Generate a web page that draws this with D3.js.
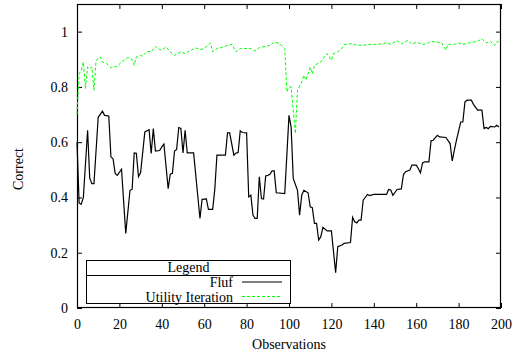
<!DOCTYPE html>
<html><head><meta charset="utf-8">
<script src="https://cdn.jsdelivr.net/npm/d3@7"></script>
<style>body{margin:0;background:#fff}svg{display:block}text{font-family:"Liberation Serif","Times New Roman",serif;font-size:14px;fill:#000}</style>
</head><body><svg id="c" width="515" height="356"></svg>
<script>
const xTicks=[0,20,40,60,80,100,120,140,160,180,200];
const yTicks=[0,0.2,0.4,0.6,0.8,1];
const seriesNames=["Fluf","Utility Iteration"];
const flufX=[0,1,2,3,5,6,7,8,10,12,13,15,16,17,18,19,21,23,25,26,27,28,29,30,32,34,35,36,37,39,40,41,43,44,45,46,47,48,49,50,51,52,55,58,59,61,62,64,65,66,70,71,72,74,75,76,77,78,80,81,82,83,84,85,86,87,88,89,90,91,92,93,94,98,100,101,102,104,105,106,107,109,110,111,112,113,114,115,116,118,120,122,123,125,126,129,130,131,132,133,134,135,137,138,140,146,147,148,149,151,153,154,155,157,158,160,161,162,163,164,166,167,168,170,171,174,176,177,178,179,181,182,183,184,186,187,189,191,192,193,194,195,197,198,199];
const flufY=[0.60,0.38,0.375,0.40,0.643,0.47,0.45,0.45,0.69,0.712,0.697,0.695,0.547,0.54,0.487,0.48,0.502,0.27,0.426,0.43,0.561,0.56,0.475,0.49,0.637,0.645,0.559,0.649,0.568,0.57,0.583,0.593,0.432,0.484,0.487,0.568,0.574,0.653,0.65,0.561,0.643,0.561,0.561,0.324,0.393,0.395,0.357,0.357,0.43,0.553,0.553,0.634,0.634,0.553,0.561,0.562,0.641,0.635,0.634,0.402,0.408,0.336,0.324,0.324,0.475,0.396,0.394,0.478,0.48,0.484,0.496,0.496,0.417,0.414,0.697,0.655,0.469,0.426,0.336,0.408,0.426,0.417,0.366,0.363,0.306,0.306,0.246,0.258,0.292,0.279,0.279,0.128,0.222,0.228,0.234,0.237,0.328,0.312,0.308,0.318,0.318,0.39,0.411,0.407,0.411,0.411,0.429,0.427,0.408,0.429,0.431,0.483,0.493,0.499,0.517,0.517,0.505,0.489,0.525,0.529,0.529,0.605,0.607,0.625,0.619,0.617,0.595,0.532,0.571,0.607,0.673,0.673,0.746,0.752,0.752,0.737,0.716,0.716,0.649,0.653,0.649,0.657,0.655,0.661,0.655];
const utilX=[0,1,2,3,4,5,6,7,8,9,11,12,14,16,19,21,24,26,27,28,30,31,33,35,37,38,40,42,44,46,49,51,53,56,58,60,63,64,66,68,71,73,75,77,79,82,84,86,89,91,93,95,97,98,99,100,101,103,104,106,107,108,110,111,112,115,117,118,120,121,123,125,126,129,131,134,137,141,144,146,148,151,153,156,158,160,163,165,167,170,172,174,175,178,180,182,185,187,189,191,193,195,197,198,199];
const utilY=[0.70,0.848,0.86,0.89,0.794,0.872,0.866,0.872,0.788,0.896,0.908,0.89,0.884,0.869,0.875,0.89,0.906,0.899,0.878,0.908,0.914,0.911,0.929,0.927,0.947,0.939,0.933,0.945,0.927,0.914,0.927,0.92,0.93,0.941,0.935,0.939,0.959,0.927,0.939,0.942,0.95,0.954,0.927,0.939,0.939,0.939,0.93,0.942,0.947,0.95,0.962,0.959,0.947,0.939,0.782,0.80,0.80,0.631,0.788,0.818,0.842,0.824,0.872,0.848,0.878,0.89,0.911,0.92,0.896,0.92,0.927,0.939,0.953,0.956,0.953,0.95,0.953,0.954,0.956,0.96,0.954,0.968,0.956,0.968,0.954,0.962,0.954,0.956,0.965,0.962,0.959,0.933,0.954,0.954,0.959,0.954,0.959,0.962,0.965,0.974,0.959,0.965,0.95,0.962,0.965];

const svg=d3.select("#c");
const L=77,R=501,T=4,B=308;
const x=d3.scaleLinear().domain([0,200]).range([L,R]);
const y=d3.scaleLinear().domain([0,1.1]).range([B,T]);

function styleAxis(g){g.select(".domain").remove();g.selectAll(".tick line").attr("stroke","#000");g.selectAll("text").attr("font-size",14).attr("font-family","Liberation Serif, serif").attr("fill","#000");}
svg.append("g").attr("transform",`translate(0,${B})`).call(d3.axisBottom(x).tickValues(xTicks).tickSizeInner(-5).tickSizeOuter(0).tickPadding(11)).call(styleAxis);
svg.append("g").attr("transform",`translate(0,${T})`).call(d3.axisTop(x).tickValues(xTicks).tickSizeInner(-5).tickSizeOuter(0).tickFormat("")).call(styleAxis);
svg.append("g").attr("transform",`translate(${L},0)`).call(d3.axisLeft(y).tickValues(yTicks).tickSizeInner(-5).tickSizeOuter(0).tickPadding(9).tickFormat(d3.format(""))).call(styleAxis);
svg.append("g").attr("transform",`translate(${R},0)`).call(d3.axisRight(y).tickValues(yTicks).tickSizeInner(-5).tickSizeOuter(0).tickFormat("")).call(styleAxis);
svg.append("rect").attr("x",L+0.5).attr("y",T+0.5).attr("width",R-L-1).attr("height",B-T-1).attr("fill","none").attr("stroke","#000").attr("stroke-width",1.2);

const line=d3.line().x(d=>x(d[0])).y(d=>y(d[1]));
const util=utilX.map((v,i)=>[v,utilY[i]]);
const fluf=flufX.map((v,i)=>[v,flufY[i]]);
svg.append("path").datum(util).attr("d",line).attr("fill","none").attr("stroke","#00ff00").attr("stroke-width",1).attr("stroke-dasharray","3,2");
svg.append("path").datum(fluf).attr("d",line).attr("fill","none").attr("stroke","#000").attr("stroke-width",1.2);

svg.append("text").attr("x",(L+R)/2).attr("y",349).attr("text-anchor","middle").text("Observations");
svg.append("text").attr("transform","translate(23,169) rotate(-90)").attr("text-anchor","middle").text("Correct");

// legend
const lg=svg.append("g");
lg.append("rect").attr("x",86.5).attr("y",260.5).attr("width",204).attr("height",43).attr("fill","#fff").attr("stroke","#000");
lg.append("line").attr("x1",86.5).attr("x2",290.5).attr("y1",275.5).attr("y2",275.5).attr("stroke","#000");
lg.append("text").attr("x",188.5).attr("y",272).attr("text-anchor","middle").text("Legend");
const cols=["#000","#00ff00"],dashes=[null,"3,2"],rowY=[282,296.5];
seriesNames.forEach((n,i)=>{
  lg.append("text").attr("x",233).attr("y",rowY[i]+5).attr("text-anchor","end").text(n);
  lg.append("line").attr("x1",242).attr("x2",282).attr("y1",rowY[i]).attr("y2",rowY[i]).attr("stroke",cols[i]).attr("stroke-width",i?1:1.2).attr("stroke-dasharray",dashes[i]);
});
</script></body></html>
